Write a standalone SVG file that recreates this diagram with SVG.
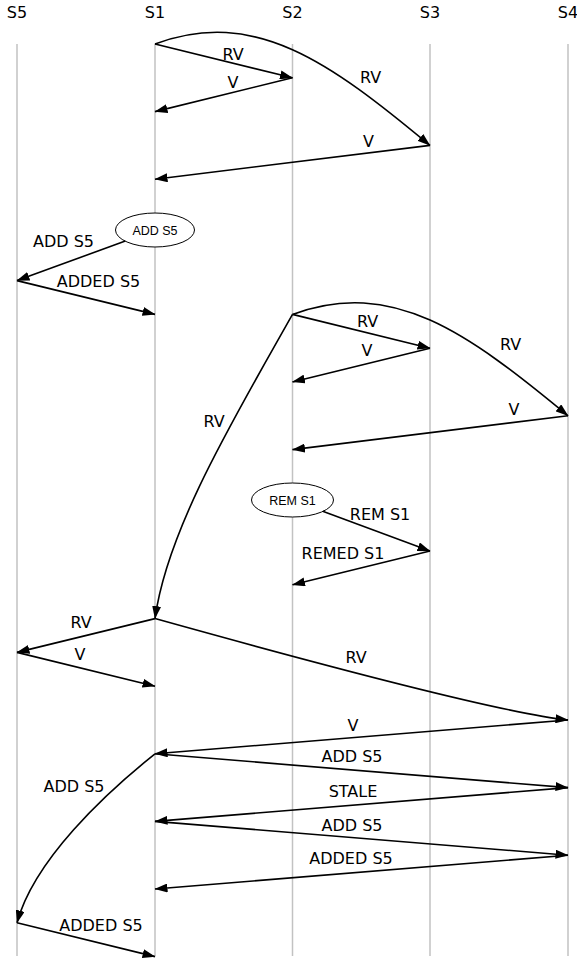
<svg xmlns="http://www.w3.org/2000/svg" width="577" height="959" viewBox="0 0 577 959">
<style>
.life{stroke:#c2c2c2;stroke-width:1.5;fill:none}
.hdr{font-family:"DejaVu Sans",sans-serif;font-size:16px;text-anchor:middle;fill:#000}
.lbl{font-family:"DejaVu Sans",sans-serif;font-size:16px;text-anchor:middle;fill:#000}
.msg{stroke:#000;stroke-width:1.6;fill:none;marker-end:url(#ah)}
.ell{fill:#fff;stroke:#000;stroke-width:1}
.etx{font-family:"Liberation Sans",Arial,sans-serif;font-size:12.5px;text-anchor:middle;fill:#000}
</style>
<defs>
<marker id="ah" viewBox="0 0 13 9" refX="12.5" refY="4.5" markerWidth="13" markerHeight="9" markerUnits="userSpaceOnUse" orient="auto">
<path d="M0,0 L13,4.5 L0,9 z" fill="#000"/>
</marker>
</defs>
<rect width="577" height="959" fill="#fff"/>
<g id="lifelines">
<g id="S5"><text class="hdr" x="17" y="17.5">S5</text><line class="life" x1="17" y1="44" x2="17" y2="956"/></g>
<g id="S1"><text class="hdr" x="155" y="17.5">S1</text><line class="life" x1="155" y1="44" x2="155" y2="956"/></g>
<g id="S2"><text class="hdr" x="292.5" y="17.5">S2</text><line class="life" x1="292.5" y1="44" x2="292.5" y2="956"/></g>
<g id="S3"><text class="hdr" x="430" y="17.5">S3</text><line class="life" x1="430" y1="44" x2="430" y2="956"/></g>
<g id="S4"><text class="hdr" x="568" y="17.5">S4</text><line class="life" x1="568" y1="44" x2="568" y2="956"/></g>
</g>
<g id="events">
<g id="ev-add"><ellipse class="ell" cx="155" cy="230" rx="39.5" ry="17"/><text class="etx" x="155" y="234.5">ADD S5</text></g>
<g id="ev-rem"><ellipse class="ell" cx="292.5" cy="500" rx="41" ry="17"/><text class="etx" x="292.5" y="504.5">REM S1</text></g>
</g>
<g id="connectors">
<path class="msg" d="M155,44 L292.5,77.8"/><text class="lbl" x="233" y="60">RV</text>
<path class="msg" d="M292.5,77.8 L155,111.6"/><text class="lbl" x="233" y="87.7">V</text>
<path class="msg" d="M155,44 C255,7 330,62.4 430,145.4"/><text class="lbl" x="370.5" y="83.3">RV</text>
<path class="msg" d="M430,145.4 L155,179.2"/><text class="lbl" x="368.5" y="146.7">V</text>
<path class="msg" d="M125.3,241 L17,280.6"/><text class="lbl" x="63.5" y="246.7">ADD S5</text>
<path class="msg" d="M17,280.6 L155,314.4"/><text class="lbl" x="98.5" y="287.3">ADDED S5</text>
<path class="msg" d="M292.5,314.4 L430,348.2"/><text class="lbl" x="367.5" y="326.7">RV</text>
<path class="msg" d="M430,348.2 L292.5,382"/><text class="lbl" x="367" y="355.7">V</text>
<path class="msg" d="M292.5,314.4 C392.5,277.4 467.5,332.8 568,415.8"/><text class="lbl" x="510.5" y="350">RV</text>
<path class="msg" d="M568,415.8 L292.5,449.6"/><text class="lbl" x="514" y="415">V</text>
<path class="msg" d="M292.5,314.4 C233,420 167,530 155,618.6"/><text class="lbl" x="214" y="426.7">RV</text>
<path class="msg" d="M322.7,511.3 L430,551"/><text class="lbl" x="380" y="520">REM S1</text>
<path class="msg" d="M430,551 L292.5,584.8"/><text class="lbl" x="343" y="559">REMED S1</text>
<path class="msg" d="M155,618.6 L17,652.4"/><text class="lbl" x="81" y="628.3">RV</text>
<path class="msg" d="M17,652.4 L155,686.2"/><text class="lbl" x="80" y="660">V</text>
<path class="msg" d="M155,618.6 Q490,712 568,720"/><text class="lbl" x="356" y="663">RV</text>
<path class="msg" d="M568,720 L155,753.8"/><text class="lbl" x="353" y="730.5">V</text>
<path class="msg" d="M155,753.8 L568,787.6"/><text class="lbl" x="352" y="762">ADD S5</text>
<path class="msg" d="M568,787.6 L155,821.4"/><text class="lbl" x="353" y="797">STALE</text>
<path class="msg" d="M155,821.4 L568,855.2"/><text class="lbl" x="352" y="830.7">ADD S5</text>
<path class="msg" d="M568,855.2 L155,889"/><text class="lbl" x="351" y="864">ADDED S5</text>
<path class="msg" d="M155,753.8 C105,793.8 34,860 17,922.8"/><text class="lbl" x="74" y="792.3">ADD S5</text>
<path class="msg" d="M17,922.8 L155,956.6"/><text class="lbl" x="101" y="930.7">ADDED S5</text>
</g>
</svg>
